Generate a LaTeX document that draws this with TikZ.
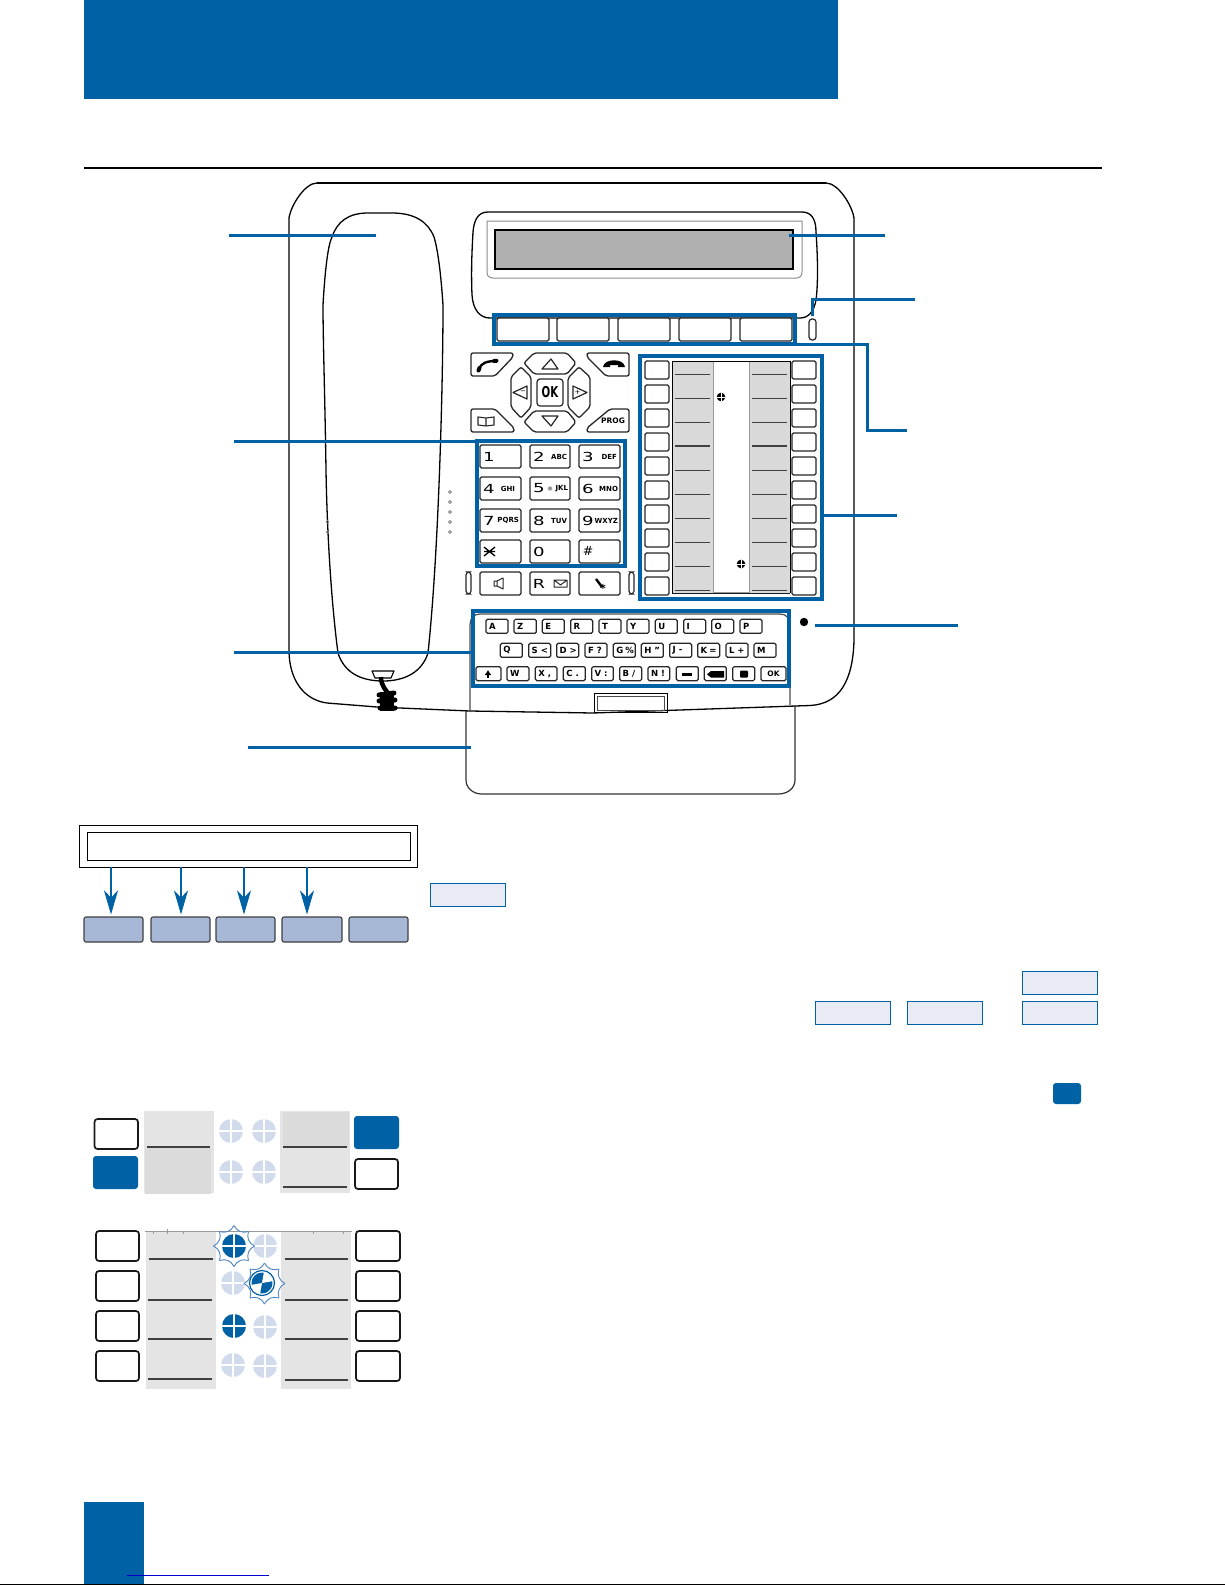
\documentclass[tikz,border=0pt]{standalone}
\usepackage{graphicx}
\usepackage{fontspec}
\setmainfont{DejaVu Sans}
\usetikzlibrary{arrows.meta,calc}
\definecolor{tkblue}{HTML}{0062A4}
\definecolor{lightbox}{HTML}{E8EBF4}
\definecolor{softblue}{HTML}{A6B8D6}
\definecolor{dotlight}{HTML}{D2DBEC}
\definecolor{strip}{HTML}{E4E4E4}
\definecolor{stripdark}{HTML}{DBDBDB}
\definecolor{fnstrip}{HTML}{D9D9D9}
\definecolor{lcd}{HTML}{B0B0B0}
\definecolor{starline}{HTML}{4F86C0}
\tikzset{
 plain/.style={inner sep=0pt,outer sep=0pt},
 keybox/.style={plain,draw=black!85,line width=1.2pt,rounded corners=1.5pt,fill=white},
 bigkey/.style={plain,draw=black!90,line width=1.7pt,rounded corners=3pt,fill=white},
 bluekey/.style={plain,fill=tkblue,rounded corners=3pt},
 softkey/.style={plain,draw=black!75,line width=1.1pt,rounded corners=2pt,fill=softblue},
 lightkey/.style={plain,draw=tkblue,line width=.9pt,fill=lightbox},
 frameblue/.style={plain,draw=tkblue,line width=3.2pt},
 leader/.style={draw=tkblue,line width=3pt},
 outline/.style={draw=black,line width=1.3pt,line join=round},
 thinout/.style={draw=black!85,line width=1.3pt,line join=round,rounded corners=2pt,fill=white},
 keytxt/.style={plain,font=\fontsize{12.5}{14}\selectfont},
 smalltxt/.style={plain,font=\fontsize{7}{8}\selectfont\bfseries},
 qtxt/.style={plain,font=\fontsize{8.5}{9}\selectfont\bfseries},
 pointer/.style={draw=tkblue,line width=1.1pt,-{Stealth[length=24pt,width=14pt,inset=7pt]}},
}
% style, name, x1, y1, x2, y2, text
\newcommand{\bx}[7]{\node[#1,minimum width={(#5-#3)*1pt},minimum height={(#6-#4)*1pt}] (#2) at ({(#3+#5)/2},{(#4+#6)/2}) {#7};}
% name, x1, x2, y1, y2 in crop units of the keyboard crop, text
\newcommand{\qk}[6]{\pgfmathsetmacro\qa{450+#2/3}\pgfmathsetmacro\qb{450+#3/3}\pgfmathsetmacro\qc{600+#4/3}\pgfmathsetmacro\qd{600+#5/3}%
 \bx{keybox}{#1}{\qa}{\qc}{\qb}{\qd}{}\node[qtxt,anchor=west] (#1t) at ([xshift=3pt]#1.west) {#6};}
\newcommand{\dk}[6]{\bx{keybox}{#1}{#2}{#3}{#4}{#5}{}\node[keytxt] (#1d) at ({#2+9},{(#3+#5)/2}) {\scalebox{1.45}[1]{#6}};}
\newcommand{\dotcross}[4]{\fill[#3] (#1,#2) circle[radius=#4];
 \draw[white,line width=1.3pt] ({#1-#4},#2)--({#1+#4},#2) (#1,{#2-#4})--(#1,{#2+#4});}
\newcommand{\smalldot}[2]{\fill[black] (#1,#2) circle[radius=4.3];
 \draw[white,line width=.7pt] ({#1-4.3},#2)--({#1+4.3},#2) (#1,{#2-4.3})--(#1,{#2+4.3});}
\newcommand{\starring}[2]{\foreach \a in {0,45,...,315}{
 \draw[starline,line width=.9pt] ($(#1,#2)+(\a:20.5)$) .. controls ($(#1,#2)+(\a+11:15)$) and ($(#1,#2)+(\a+34:15)$) .. ($(#1,#2)+(\a+45:20.5)$);}}
\begin{document}
\begin{tikzpicture}[x=1pt,y=-1pt]
\useasboundingbox (0,0) rectangle (1225,1585);
% page furniture
\fill[tkblue] (84,0) rectangle (838,99);
\draw[black,line width=1.6pt] (84,168)--(1102,168);
\fill[tkblue] (84,1502) rectangle (144,1584);
\draw[blue!80!black,line width=1pt] (127,1575)--(269,1575);
\draw[black,line width=1.6pt] (0,1584.3)--(1225,1584.3);
% drawer
\draw[outline,line width=1.2pt,draw=black!80] (466,711) -- (466,780) .. controls (466,788) and (473,794) .. (482,794) -- (778,794) .. controls (788,794) and (795,788) .. (795,780) -- (795,706);
% phone body
\draw[outline] (289,650) -- (289,218) .. controls (291,205) and (305,183) .. (317,183) -- (826,183) .. controls (838,183) and (852,205) .. (854,218) -- (854,640) .. controls (853,680) and (840,704) .. (810,705.5) -- (593,713) -- (470,711) -- (377,707) -- (327,703) .. controls (304,700) and (289,680) .. (289,650) -- cycle;
\draw[black,line width=1.9pt] (317,183)--(826,183);
% handset
\draw[outline] (326,470) .. controls (325,400) and (323,340) .. (323,305) .. controls (325,270) and (328,245) .. (332,237) .. controls (337,222) and (348,213) .. (368,213) -- (392,213) .. controls (415,213) and (428,222) .. (434,237) .. controls (438,250) and (441,275) .. (443,305) .. controls (443,380) and (439,550) .. (428,653) .. controls (422,672) and (405,681) .. (383,681) .. controls (360,681) and (344,672) .. (338,653) .. controls (331,600) and (327,530) .. (326,470);
\foreach \y in {492,502,512,522,532}{\draw[black!70,line width=.5pt] (450,\y) circle[radius=1.5];}
\foreach \y in {522,532}{\draw[black!50,line width=.4pt] (327.5,\y) circle[radius=1.5];}
\draw[black,line width=1.1pt,line join=round,fill=white] (372,671)--(394,671)--(391,678)--(375,678)--cycle;
\draw[black,line width=4.5pt] (381,677) .. controls (381,686) and (386,690) .. (390,696);
\draw[black,line width=5pt,line cap=round] (379,695)--(394,693) (379,701)--(395,700) (380,708)--(395,708);
\fill[black] (380,692) rectangle (394,711);
% display housing
\draw[outline] (488,212) -- (802,212) .. controls (812,212) and (816,220) .. (816,232) .. controls (818,260) and (818,285) .. (816,300) .. controls (814,312) and (808,318) .. (800,318) -- (490,318) .. controls (480,318) and (473,310) .. (472,295) .. controls (471,270) and (472,250) .. (473,232) .. controls (474,220) and (478,212) .. (488,212) -- cycle;
\draw[draw=black!45,line width=1pt,fill=white] (487,221)--(802,221)--(802,272) .. controls (802,276) and (800,278) .. (796,278)--(493,278) .. controls (489,278) and (487,276) .. (487,272)--cycle;
\bx{plain,draw=black,line width=1.2pt,fill=lcd}{lcdscreen}{495}{230}{793}{269}{}
% soft keys under display
\foreach \n/\a/\b in {1/497/549,2/557/609,3/618/670,4/679/731,5/740/792}{\bx{keybox}{sk\n}{\a}{318}{\b}{341}{}}
\bx{frameblue}{softframe}{494}{315}{795}{344}{}
\bx{keybox,rounded corners=3pt}{ledpill}{809}{319}{816}{340}{}
% navigation cluster
\draw[thinout] (471,353)--(513,353)--(513,357)--(495,376)--(471,376)--cycle;
\draw[black,line width=2.4pt] (479,369) .. controls (481,363) and (487,361) .. (496,361);
\draw[black,line width=4pt,line cap=round] (478.5,370.5)--(479.5,368) (494,361)--(496.5,360.8);
\draw[thinout] (587,353)--(629,353)--(629,376)--(606,376)--(587,357)--cycle;
\fill[black] (603,367) .. controls (604,358) and (624,358) .. (625,367) -- (618,367) -- (618,365) -- (610,365) -- (610,367) -- cycle;
\draw[thinout] (524,363)--(534,353)--(567,353)--(576,363)--(567,374)--(534,374)--cycle;
\draw[black!85,line width=1.2pt,line join=round] (542,369)--(551,359)--(558,369)--cycle;
\draw[thinout] (524,422)--(534,411)--(567,411)--(576,422)--(567,432)--(534,432)--cycle;
\draw[black!85,line width=1.2pt,line join=round] (542,416)--(558,416)--(551,426)--cycle;
\draw[thinout] (521,367)--(531,377)--(531,407)--(521,418)--(511,407)--(511,377)--cycle;
\draw[black!85,line width=1.2pt,line join=round] (513,392.5)--(527,386)--(527,399)--cycle;
\node[plain,font=\fontsize{7}{8}\selectfont] (navminus) at (523,392.5) {−};
\draw[thinout] (579,367)--(568,378)--(568,407)--(579,418)--(590,407)--(590,377)--cycle;
\draw[black!85,line width=1.2pt,line join=round] (573,386)--(587,392.5)--(573,399)--cycle;
\node[plain,font=\fontsize{7}{8}\selectfont] (navplus) at (577.5,392.5) {+};
\bx{keybox,rounded corners=3pt}{okkey}{537}{379}{563}{406}{\fontsize{15}{16}\selectfont\scalebox{.68}[1]{\bfseries OK}}
\draw[thinout] (471,409)--(495,409)--(514,428)--(514,432)--(471,432)--cycle;
\draw[black!85,line width=1.1pt,fill=white] (478,417)--(486,418)--(494,417)--(494,425)--(486,426)--(478,425)--cycle (486,418)--(486,426);
\draw[thinout] (610,409)--(629,409)--(629,432)--(587,432)--(587,428)--cycle;
\node[plain,font=\fontsize{7.5}{8}\selectfont\bfseries] (progtxt) at (613,421) {PROG};
% dial pad
\dk{d1}{480}{445}{521}{468}{1}
\dk{d2}{530}{445}{570}{468}{2}\node[smalltxt,anchor=east] (d2l) at (567,456.5) {ABC};
\dk{d3}{579}{445}{620}{468}{3}\node[smalltxt,anchor=east] (d3l) at (617,456.5) {DEF};
\dk{d4}{480}{477}{521}{500}{4}\node[smalltxt,anchor=east] (d4l) at (515,488.5) {GHI};
\dk{d5}{530}{477}{570}{500}{5}\node[smalltxt,anchor=east] (d5l) at (568,488.5) {JKL};\fill[black!40] (550,488.5) circle[radius=2.2];
\dk{d6}{579}{477}{620}{500}{6}\node[smalltxt,anchor=east] (d6l) at (618,488.5) {MNO};
\dk{d7}{480}{509}{521}{532}{7}\node[smalltxt,anchor=east] (d7l) at (519,520.5) {PQRS};
\dk{d8}{530}{509}{570}{532}{8}\node[smalltxt,anchor=east] (d8l) at (567,520.5) {TUV};
\dk{d9}{579}{509}{620}{532}{9}\node[smalltxt,anchor=east] (d9l) at (618,520.5) {WXYZ};
\bx{keybox}{dstar}{480}{540}{521}{563}{}
\draw[black,line width=1.3pt] (484,547)--(495,556) (484,556)--(495,547) (484,551.5)--(495,551.5);
\dk{d0}{530}{540}{570}{563}{0}
\bx{keybox}{dhash}{579}{540}{620}{563}{}
\node[keytxt] (dhasht) at (588,551.5) {\#};
\bx{keybox,rounded corners=3pt}{pillL}{466}{572}{471}{594}{}
\bx{keybox,rounded corners=3pt}{pillR}{629}{572}{634}{594}{}
\bx{keybox}{spk}{480}{572}{521}{595}{}
\draw[black!85,line width=1pt,line join=round] (494,581)--(497,581)--(503,578)--(503,589)--(497,586)--(494,586)--cycle (497,581)--(497,586);
\bx{keybox}{rmail}{530}{572}{570}{595}{}
\node[keytxt] (rlabel) at (539,583.5) {\scalebox{1.4}[1]{R}};
\draw[black!85,line width=1pt,line join=round] (554,580)--(567,580)--(567,587)--(554,587)--cycle (554,580)--(560.5,585)--(567,580);
\bx{keybox}{redial}{579}{572}{620}{595}{}
\draw[black,line width=2.4pt] (596,579)--(602,587);
\node[plain,font=\fontsize{11}{11}\selectfont\bfseries] (redstar) at (603,588) {*};
\bx{frameblue}{padframe}{477}{441}{625}{566}{}
% function key column
\fill[fnstrip] (672,361) rectangle (790,593);
\fill[white] (713,361) rectangle (749,592);
\draw[black!40,line width=1pt] (713,361)--(713,592)--(749,592)--(749,361);
\draw[black,line width=.9pt] (672,593)--(672,361)--(790,361)--(790,593);
\draw[black!90,line width=.8pt] (672,593.5)--(790,593.5);
\foreach \i in {0,...,9}{
 \pgfmathsetmacro\yy{361+24*\i}\pgfmathsetmacro\yz{\yy+18}
 \bx{keybox}{fl\i}{645}{\yy}{669}{\yz}{}
 \bx{keybox}{fr\i}{792}{\yy}{816}{\yz}{}
 \pgfmathsetmacro\yl{374+24*\i}
 \pgfmathsetmacro\lw{ifthenelse(\i==3,1.6,0.8)}
 \draw[black!75,line width=\lw pt] (675,\yl)--(710,\yl) (752,\yl)--(787,\yl);
}
\smalldot{721}{397}
\smalldot{741}{564}
\bx{frameblue}{fnframe}{640}{356}{822}{599}{}
% keyboard panel
\draw[black!70,line width=1.2pt] (470,712)--(470,625) .. controls (470,618) and (474,614) .. (480,614)--(780,614) .. controls (786,614) and (790,618) .. (790,625)--(790,705);
\qk{q1}{108}{174}{58}{100}{A}\qk{q2}{192}{259}{58}{100}{Z}\qk{q3}{277}{343}{58}{100}{E}\qk{q4}{362}{428}{58}{100}{R}\qk{q5}{447}{513}{58}{100}{T}\qk{q6}{531}{597}{58}{100}{Y}\qk{q7}{616}{682}{58}{100}{U}\qk{q8}{701}{767}{58}{100}{I}\qk{q9}{785}{851}{58}{100}{O}\qk{q10}{870}{936}{58}{100}{P}
\qk{r1}{151}{217}{130}{172}{Q}\qk{r2}{236}{302}{130}{172}{S\hspace{3pt}<}\qk{r3}{320}{386}{130}{172}{D\hspace{3pt}>}\qk{r4}{405}{471}{130}{172}{F\hspace{3pt}?}\qk{r5}{490}{556}{130}{172}{G\hspace{2pt}\%}\qk{r6}{574}{640}{130}{172}{H\hspace{3pt}"}\qk{r7}{659}{725}{130}{172}{J\hspace{3pt}-}\qk{r8}{743}{809}{130}{172}{K\hspace{2pt}=}\qk{r9}{828}{894}{130}{172}{L\hspace{3pt}+}\qk{r10}{912}{978}{130}{172}{M}
\qk{s1}{78}{153}{200}{242}{}\qk{s2}{171}{237}{200}{242}{W}\qk{s3}{256}{321}{200}{242}{X\hspace{3pt},}\qk{s4}{340}{406}{200}{242}{C\hspace{3pt}.}\qk{s5}{425}{490}{200}{242}{V\hspace{3pt}:}\qk{s6}{509}{575}{200}{242}{B\hspace{3pt}/}\qk{s7}{594}{659}{200}{242}{N\hspace{3pt}!}\qk{s8}{679}{745}{200}{242}{}\qk{s9}{763}{829}{200}{242}{}\qk{s10}{848}{914}{200}{242}{}\qk{s11}{933}{1008}{200}{242}{}
\node[plain,font=\fontsize{7.5}{8}\selectfont\bfseries] (okq) at (s11) {OK};
\draw[black,line width=2pt,-{Latex[length=5pt,width=7pt]}] (488,678)--(488,670);
\fill[black] (682,672.5) rectangle (692,675.5);
\fill[black] (711,671) rectangle (724,677.5) (711,671)--(707,674.3)--(711,677.5)--cycle;
\fill[black,rounded corners=1pt] (740,670.5) rectangle (748,677.5);
\bx{frameblue}{kbframe}{473}{611}{789}{686}{}
\bx{plain,draw=black,line width=1pt}{tabouter}{594}{693}{667}{712}{}
\bx{plain,draw=black!70,line width=1pt}{tabinner}{597}{696}{664}{710}{}
\fill[black] (804,622) circle[radius=4.2];
% leaders
\coordinate (lhand) at (229,235);\coordinate (hhand) at (376,235);\draw[leader] (lhand)--(hhand);
\coordinate (ldial) at (234,441);\draw[leader] (ldial)--(padframe.north west);
\coordinate (lkb) at (234,652);\coordinate (kbl) at (473,652);\draw[leader] (lkb)--(kbl);
\coordinate (ldr) at (248,747);\coordinate (drw) at (471,747);\draw[leader] (ldr)--(drw);
\coordinate (lcdr) at (885,235);\coordinate (lcdin) at (789,235);\draw[leader] (lcdin)--(lcdr);
\coordinate (ledb) at (812,316);\coordinate (ledr) at (915,299);\draw[leader] (ledb)--(812,299)--(ledr);
\coordinate (skr) at (907,430);\draw[leader] (softframe.south east)--(867,344)--(867,430)--(skr);
\coordinate (fnr) at (897,515);\coordinate (fnl) at (822,515);\draw[leader] (fnl)--(fnr);
\coordinate (micl) at (815,625);\coordinate (micr) at (958,625);\draw[leader] (micl)--(micr);
% display legend
\bx{plain,draw=black,line width=1pt}{legouter}{79}{825}{417}{867}{}
\bx{plain,draw=black,line width=1pt}{leginner}{87}{832}{410}{860}{}
\bx{softkey}{lk1}{84}{917}{143}{942}{}
\bx{softkey}{lk2}{151}{917}{210}{942}{}
\bx{softkey}{lk3}{216}{917}{275}{942}{}
\bx{softkey}{lk4}{282}{917}{342}{942}{}
\bx{softkey}{lk5}{349}{917}{408}{942}{}
\coordinate (a1) at (111,867);\coordinate (b1) at (111,914.5);\draw[pointer] (a1)--(b1);
\coordinate (a2) at (181,867);\coordinate (b2) at (181,914.5);\draw[pointer] (a2)--(b2);
\coordinate (a3) at (244,867);\coordinate (b3) at (244,914.5);\draw[pointer] (a3)--(b3);
\coordinate (a4) at (307,867);\coordinate (b4) at (307,914.5);\draw[pointer] (a4)--(b4);
\bx{lightkey}{tagA}{430}{883}{505}{906}{}
\bx{lightkey}{tagB}{1022}{971}{1097}{994}{}
\bx{lightkey}{tagC}{1022}{1001}{1097}{1024}{}
\bx{lightkey}{tagD}{815}{1001}{890}{1024}{}
\bx{lightkey}{tagE}{907}{1001}{982}{1024}{}
\bx{bluekey}{tagF}{1053}{1083}{1081}{1104}{}
% upper key sample
\fill[strip] (144,1111) rectangle (214,1193);
\fill[stripdark] (145,1148) rectangle (211,1194);
\fill[strip] (280,1111) rectangle (350,1193);
\fill[stripdark] (283,1112) rectangle (349,1147);
\draw[black!75,line width=1.4pt] (147,1147)--(210,1147) (283,1147)--(347,1147) (283,1187)--(347,1187);
\bx{bigkey}{ua}{94.5}{1119}{138}{1149}{}
\bx{bluekey}{ub}{93}{1156}{138}{1189}{}
\bx{bluekey}{uc}{354}{1116}{399}{1149}{}
\bx{bigkey}{ud}{355}{1159}{398}{1189}{}
\dotcross{231}{1131}{dotlight}{12}
\dotcross{264}{1131}{dotlight}{12}
\dotcross{231}{1172}{dotlight}{12}
\dotcross{264}{1172}{dotlight}{12}
% lower key sample
\fill[strip] (146,1232) rectangle (216,1389);
\fill[strip] (281,1232) rectangle (351,1389);
\draw[black!40,line width=.6pt] (145,1231.5)--(352,1231.5) (153,1231.5)--(153,1234) (167,1229)--(167,1234) (183,1231.5)--(183,1234) (313,1231.5)--(313,1234) (343,1231.5)--(343,1234);
\draw[black!75,line width=1.4pt] (149,1259)--(213,1259) (148,1300)--(212,1300) (148,1339)--(212,1339) (148,1379)--(212,1379) (285,1259)--(348,1259) (285,1300)--(348,1300) (285,1339)--(348,1339) (285,1380)--(348,1380);
\bx{bigkey}{la}{96}{1231}{139}{1261}{}
\bx{bigkey}{lb}{96}{1271}{139}{1301}{}
\bx{bigkey}{lc}{96}{1311}{139}{1341}{}
\bx{bigkey}{ld}{96}{1351}{139}{1381}{}
\bx{bigkey}{le}{356}{1231}{400}{1261}{}
\bx{bigkey}{lf}{356}{1271}{400}{1301}{}
\bx{bigkey}{lg}{356}{1311}{400}{1341}{}
\bx{bigkey}{lh}{356}{1351}{400}{1381}{}
\dotcross{265}{1246}{dotlight}{12}
\dotcross{233}{1283}{dotlight}{12}
\fill[white] (234,1246) circle[radius=13.5];
\dotcross{234}{1246}{tkblue}{12}
\starring{234}{1246}
\fill[white] (262,1283) circle[radius=15];
\fill[tkblue] (262,1283) circle[radius=10.5];
\fill[white] (262,1283) -- ++(-80:11) arc[start angle=-80,end angle=-10,radius=11] -- cycle;
\fill[white] (262,1283) -- ++(100:11) arc[start angle=100,end angle=170,radius=11] -- cycle;
\draw[tkblue,line width=1.2pt] (262,1283) circle[radius=12.5];
\starring{264.5}{1283.5}
\dotcross{234}{1326}{tkblue}{12}
\dotcross{265}{1327}{dotlight}{12}
\dotcross{233}{1365}{dotlight}{12}
\dotcross{265}{1366}{dotlight}{12}
\end{tikzpicture}
\end{document}
